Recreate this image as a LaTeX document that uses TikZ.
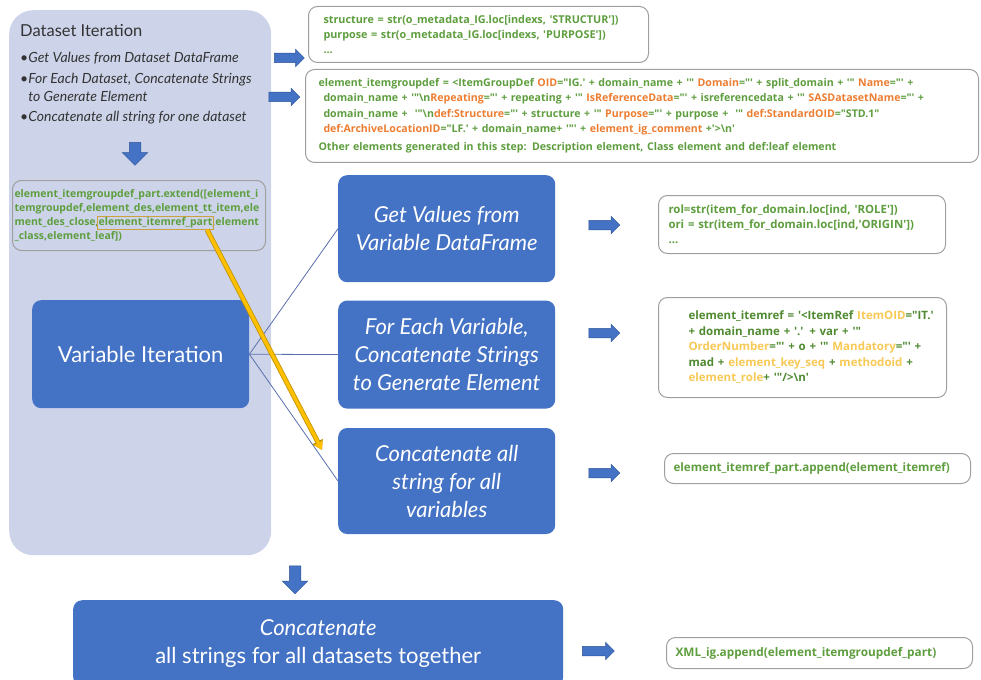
\documentclass[tikz,border=0pt]{standalone}
\usepackage{fontspec}
\setmainfont{Lato}
\newfontfamily\codefont[Ligatures=TeXOff]{Open Sans}
\usetikzlibrary{shapes.arrows,arrows.meta,positioning}
\definecolor{panelfill}{HTML}{CDD4EA}
\definecolor{boxblue}{HTML}{4472C4}
\definecolor{arrowedge}{HTML}{2F5597}
\definecolor{codegreen}{HTML}{5E9E3E}
\definecolor{darkgreen}{HTML}{4F8A30}
\definecolor{keyorange}{HTML}{ED7D31}
\definecolor{keyyellow}{HTML}{F7C955}
\definecolor{linkblue}{HTML}{5A70AE}
\definecolor{yfill}{HTML}{FFC000}
\definecolor{yedge}{HTML}{BF9000}
\definecolor{hlgold}{HTML}{C9A23C}
\definecolor{titlegray}{HTML}{333333}
\newcommand{\ibFont}{\codefont\bfseries\fontsize{10.5}{14}\selectfont}
\newlength{\hlOffset}
\tikzstyle{panel}=[fill=panelfill, rounded corners=24pt, anchor=north west, inner sep=0pt]
\tikzstyle{bullet}=[anchor=base west, inner sep=0pt, text=titlegray,
  font=\fontsize{14}{17}\selectfont]
\tikzstyle{bluebox}=[fill=boxblue, rounded corners=9pt, text=white, align=center,
  anchor=north west, inner sep=2pt, font=\fontsize{22}{28}\selectfont\itshape]
\tikzstyle{codebox}=[draw=gray!75, line width=1pt, fill=white, rounded corners=9pt,
  anchor=north west, align=left, inner xsep=10pt, inner ysep=2pt, text=codegreen,
  font=\codefont\bfseries\fontsize{10.5}{15}\selectfont]
\tikzstyle{fatarrow}=[single arrow, fill=boxblue, draw=arrowedge, line width=0.5pt,
  inner xsep=0pt, inner ysep=4.5pt, single arrow head extend=4pt]
\tikzstyle{link}=[draw=linkblue, line width=0.8pt]
\tikzstyle{hlbox}=[draw=hlgold, line width=1.2pt, inner sep=1pt, anchor=base west, font=\ibFont]
\tikzstyle{yarrow}=[draw=yfill, line width=3.4pt, -{Triangle[length=8pt,width=9pt]},
  preaction={draw=yedge, line width=5pt, -{Triangle[length=9.5pt,width=11pt]}}]
\newcommand{\blueBox}[5]{node (#1) [bluebox,#2, minimum width=#3, minimum height=#4] {#5}}
\newcommand{\codeBox}[5]{node (#1) [codebox,#2, text width=#3, minimum height=#4] {#5}}
\newcommand{\fatArrow}[4]{node (#1) [fatarrow,#2, minimum height=#3, rotate=#4] {}}
\newcommand{\orKey}[1]{\textcolor{keyorange}{#1}}
\newcommand{\ylKey}[1]{\textcolor{keyyellow}{#1}}
\begin{document}
\settowidth{\hlOffset}{\ibFont ment\_des\_close,}
\begin{tikzpicture}[x=1pt,y=-1pt]
\useasboundingbox (0,0) rectangle (981,679);
% Dataset panel with its steps
\path (9,10) node (ds) [panel, minimum width=262, minimum height=545] {};
\path (20,37) node (dstitle) [anchor=base west, inner sep=0pt, text=titlegray,
  font=\fontsize{16.5}{20}\selectfont] {Dataset Iteration};
\path (dstitle.base west) +(0,26) node (b1) [bullet] {\textbullet\textit{Get Values from Dataset DataFrame}};
\path (b1.base west) +(0,21) node (b2) [bullet] {\textbullet\textit{For Each Dataset, Concatenate Strings}};
\path (b2.base west) +(0,18) node (b2b) [bullet] {\phantom{\textbullet}\textit{to Generate Element}};
\path (b2b.base west) +(0,20) node (b3) [bullet] {\textbullet\textit{Concatenate all string for one dataset}};
\path (135,151) \fatArrow{dn1}{inner ysep=5.5pt, single arrow head extend=7pt}{23}{-90};
\path (12,180) \codeBox{ib}{inner xsep=2pt, fill=none, font=\ibFont}{249pt}{70}{element\_itemgroupdef\_part.extend([element\_i\\
temgroupdef,element\_des,element\_tt\_item,ele\\
ment\_des\_close,element\_itemref\_part,element\\
\_class,element\_leaf])};

% Dataset level code
\path (287,58) \fatArrow{a1}{}{30}{0};
\path (282,97) \fatArrow{a2}{}{31}{0};
\path (308,6) \codeBox{ts}{inner xsep=15pt, font=\codefont\bfseries\fontsize{10.8}{15}\selectfont}{310pt}{56}{structure = str(o\_metadata\_IG.loc[indexs, 'STRUCTUR'])\\
purpose = str(o\_metadata\_IG.loc[indexs, 'PURPOSE'])\\
...};
\path (305,69) \codeBox{tg}{inner xsep=13pt, font=\codefont\bfseries\fontsize{10.6}{15.3}\selectfont}{647pt}{93}{element\_itemgroupdef = <ItemGroupDef \orKey{OID}="IG.' + domain\_name + '" \orKey{Domain}="' + split\_domain + '" \orKey{Name}="' +\\
\hspace*{5pt}domain\_name + '"\textbackslash n\orKey{Repeating}="' + repeating + '" \orKey{IsReferenceData}="' + isreferencedata + '" \orKey{SASDatasetName}="' +\\
\hspace*{5pt}domain\_name +\ \ '"\textbackslash n\orKey{def:Structure}="' + structure + '" \orKey{Purpose}="' + purpose +\ \ '" \orKey{def:StandardOID}="STD.1"\\
\hspace*{5pt}\orKey{def:ArchiveLocationID}="LF.' + domain\_name+ '"' + \orKey{element\_ig\_comment} +'>\textbackslash n'\\[3pt]
Other elements generated in this step: Description element, Class element and def:leaf element};

% Variable level
\path (32,300) \blueBox{vi}{font=\fontsize{22}{28}\selectfont}{217}{108}{Variable Iteration};
\path (338,175) \blueBox{gv}{}{217}{107}{Get Values from\\ Variable DataFrame};
\path (gv.south west) +(0,18) \blueBox{fe}{}{217}{108}{For Each Variable,\\ Concatenate Strings\\ to Generate Element};
\path (fe.south west) +(0,19) \blueBox{cv}{}{217}{106}{Concatenate all\\ string for all\\ variables};
\path [link] (vi.east) -- (gv.west);
\path [link] (vi.east) -- (fe.west);
\path [link] (vi.east) -- (cv.west);

\path (602,225) \fatArrow{a3}{}{31}{0};
\path (602,333) \fatArrow{a4}{}{31}{0};
\path (602,473) \fatArrow{a5}{}{31}{0};
\path (658,195) \codeBox{rv}{font=\codefont\bfseries\fontsize{11.4}{15}\selectfont}{267pt}{58}{rol=str(item\_for\_domain.loc[ind, 'ROLE'])\\
ori = str(item\_for\_domain.loc[ind,'ORIGIN'])\\
...};
\path (658,297) \codeBox{re}{inner xsep=30pt, text=darkgreen, font=\codefont\bfseries\fontsize{11.5}{15.5}\selectfont}{228pt}{100}{\mbox{element\_itemref = '<ItemRef \ylKey{ItemOID}="IT.'}\\
+ domain\_name + '.' + var + '"\\
\mbox{\ylKey{OrderNumber}="' + o + '" \ylKey{Mandatory}="' +}\\
\mbox{mad + \ylKey{element\_key\_seq} + \ylKey{methodoid} +}\\
\ylKey{element\_role}+ '"/>\textbackslash n'};
\path (664,453) \codeBox{ra}{inner xsep=9pt, font=\codefont\bfseries\fontsize{11.6}{15}\selectfont}{288pt}{30}{element\_itemref\_part.append(element\_itemref)};

% All datasets together
\path (295,577) \fatArrow{dn2}{inner ysep=5.5pt, single arrow head extend=7pt}{28}{-90};
\path (73,600) \blueBox{cat}{font=\fontsize{22}{28}\selectfont}{490}{86}{\textit{Concatenate}\\ all strings for all datasets together};
\path (596,651) \fatArrow{a6}{}{32}{0};
\path (666,637) \codeBox{rx}{inner xsep=9pt, font=\codefont\bfseries\fontsize{11.8}{15}\selectfont}{288pt}{31}{XML\_ig.append(element\_itemgroupdef\_part)};

% Highlight and link to the variable loop
\path ([xshift=\hlOffset+1pt, yshift=-28pt]ib.base west) node (hl) [hlbox] {\phantom{element\_itemref\_part}};
\coordinate (ytip) at (322,450);
\draw [yarrow] ([xshift=-7pt]hl.south east) -- (ytip);
\end{tikzpicture}
\end{document}
